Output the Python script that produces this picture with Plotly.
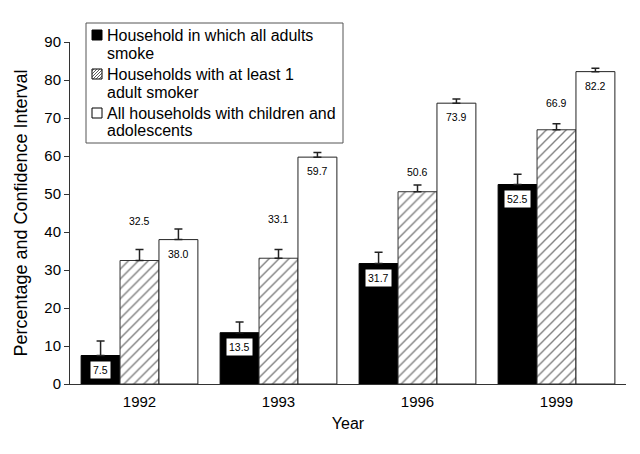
import plotly.graph_objects as go

years = ["1992", "1993", "1996", "1999"]
all_adults = [7.5, 13.5, 31.7, 52.5]
all_adults_err = [3.8, 2.8, 3.0, 2.7]
one_smoker = [32.5, 33.1, 50.6, 66.9]
one_smoker_err = [2.9, 2.3, 1.8, 1.6]
all_households = [38.0, 59.7, 73.9, 82.2]
all_households_err = [2.8, 1.2, 1.1, 0.9]

legend_lines = [
    ["Household in which all adults", "smoke"],
    ["Households with at least 1", "adult smoker"],
    ["All households with children and", "adolescents"],
]

# label placement (layout only)
hatch_label_pos = [43.0, 43.3, 55.9, 74.0]
bar_w = 0.28

FONT = "Liberation Sans, Arial, sans-serif"
err_style = dict(type="data", symmetric=False, color="#222", thickness=1.5, width=4)

# page has an 8px body margin; figure is 632x446 placed at (8,8)
OFF = 8
W, H = 632, 446
# desired plot area in window pixels
L, R, T, B = 70, 626, 42, 384
def px(x):
    return (x - L) / (R - L)
def py(y):
    return (B - y) / (B - T)

fig = go.Figure()
fig.add_trace(go.Bar(
    x=years, y=all_adults, name=" ".join(legend_lines[0]),
    marker=dict(color="black", line=dict(color="black", width=1)),
    error_y=dict(array=all_adults_err, arrayminus=[0] * 4, **err_style),
))
fig.add_trace(go.Bar(
    x=years, y=one_smoker, name=" ".join(legend_lines[1]),
    marker=dict(color="white", line=dict(color="#333", width=1),
                pattern=dict(shape="/", fgcolor="#000", bgcolor="white", size=7, solidity=0.2)),
    error_y=dict(array=one_smoker_err, arrayminus=[0] * 4, **err_style),
))
fig.add_trace(go.Bar(
    x=years, y=all_households, name=" ".join(legend_lines[2]),
    marker=dict(color="white", line=dict(color="#222", width=1)),
    error_y=dict(array=all_households_err, arrayminus=[0] * 4, **err_style),
))

ann = []
for i, y in enumerate(years):
    ann.append(dict(x=i - bar_w, y=all_adults[i], text=f"{all_adults[i]:.1f}", showarrow=False,
                    yshift=-14, bgcolor="white", borderpad=2, font=dict(size=10.5, color="black")))
    ann.append(dict(x=i, y=hatch_label_pos[i], text=f"{one_smoker[i]:.1f}", showarrow=False,
                    font=dict(size=10.5, color="black")))
    ann.append(dict(x=i + bar_w, y=all_households[i], text=f"{all_households[i]:.1f}", showarrow=False,
                    yshift=-14, font=dict(size=10.5, color="black")))

# manual legend
shapes = [dict(type="rect", xref="paper", yref="paper", x0=px(86), x1=px(343), y0=py(143), y1=py(23),
               line=dict(color="#555", width=1), fillcolor="white", layer="above")]
line_y = [[35, 53], [74, 92], [113, 131]]
sym_fill = ["black", "white", "white"]
for k, lines in enumerate(legend_lines):
    cy = line_y[k][0]
    x0, x1, y0, y1 = 92, 102, cy - 5, cy + 5
    shapes.append(dict(type="rect", xref="paper", yref="paper", x0=px(x0), x1=px(x1),
                       y0=py(y1), y1=py(y0), line=dict(color="black", width=1),
                       fillcolor=sym_fill[k], layer="above"))
    if k == 1:
        for d in range(-8, 10, 3):
            sx0, sy0 = (x0, y1 + d) if d < 0 else (x0 + d, y1)
            sx1, sy1 = (x0 + d + 10, y0) if d + 10 <= 10 else (x1, y1 - (10 - d))
            shapes.append(dict(type="line", xref="paper", yref="paper", x0=px(sx0), y0=py(sy0),
                               x1=px(sx1), y1=py(sy1), line=dict(color="#333", width=0.8), layer="above"))
    for j, t in enumerate(lines):
        ann.append(dict(xref="paper", yref="paper", x=px(105), y=py(line_y[k][j]), text=t,
                        xanchor="left", yanchor="middle", showarrow=False,
                        font=dict(size=16, color="black")))

fig.update_layout(
    width=W, height=H,
    margin=dict(l=L - OFF, r=W + OFF - R, t=T - OFF, b=H + OFF - B),
    paper_bgcolor="white", plot_bgcolor="white",
    font=dict(family=FONT, color="black"),
    barmode="group", bargap=0.16, bargroupgap=0,
    showlegend=False,
    annotations=ann, shapes=shapes,
)
fig.update_xaxes(type="category", showline=True, linecolor="#333", linewidth=1, automargin=False,
                 ticks="", tickfont=dict(size=15), showgrid=False, ticklabelstandoff=4,
                 title=dict(text="Year", font=dict(size=16), standoff=8))
fig.update_yaxes(range=[0, 90], dtick=10, showline=True, linecolor="#333", linewidth=1, automargin=False,
                 ticks="outside", ticklen=5, tickcolor="#333", tickfont=dict(size=15),
                 showgrid=False, zeroline=False,
                 title=dict(text="Percentage and Confidence Interval", font=dict(size=18), standoff=12))

fig.write_html("out.html")
